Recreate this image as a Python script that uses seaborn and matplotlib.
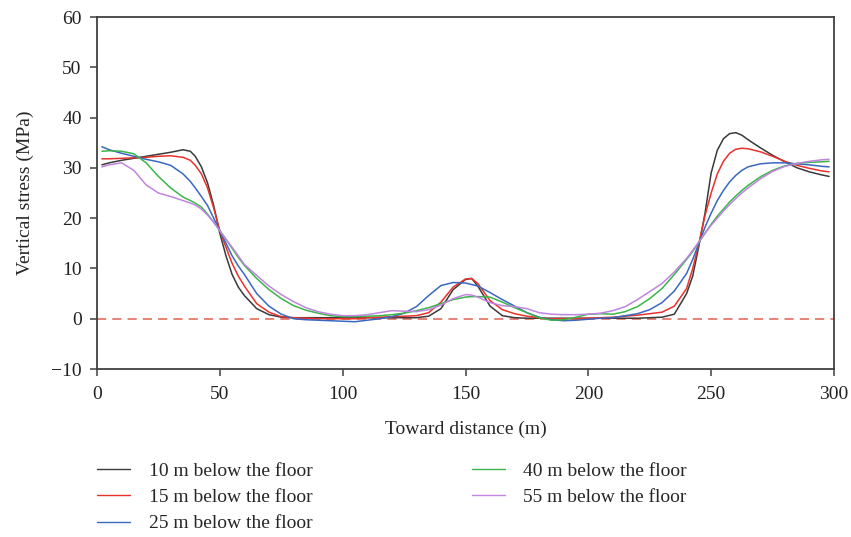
import numpy as np
import pandas as pd
import matplotlib
matplotlib.use("Agg")
import matplotlib.pyplot as plt
import seaborn as sns

# === DATA ===
distance = [2, 5, 10, 15, 20, 25, 30, 35, 38, 40,
            42.5, 45, 47.5, 50, 52.5, 55, 57.5, 60, 65, 70,
            75, 80, 85, 90, 95, 100, 105, 110, 115, 120,
            125, 130, 135, 140, 145, 150, 152.5, 155, 160, 165,
            170, 175, 180, 185, 190, 195, 200, 205, 210, 215,
            220, 225, 230, 235, 240, 242.5, 245, 247.5, 250, 252.5,
            255, 257.5, 260, 262.5, 265, 270, 275, 280, 285, 290,
            295, 298]

stress_10m = [30.6, 31.0, 31.5, 31.9, 32.3, 32.7, 33.1, 33.6, 33.3, 32.3,
              30.2, 27.0, 22.5, 17.0, 12.5, 8.8, 6.3, 4.6, 2.0, 0.8,
              0.3, 0.2, 0.2, 0.2, 0.2, 0.2, 0.2, 0.2, 0.2, 0.2,
              0.2, 0.2, 0.5, 2.0, 5.8, 7.8, 8.0, 6.5, 2.5, 0.6,
              0.2, 0.1, 0.1, 0.1, 0.1, 0.1, 0.1, 0.1, 0.1, 0.1,
              0.1, 0.2, 0.3, 0.9, 5.0, 8.5, 14.5, 21.0, 29.0, 33.5,
              35.8, 36.8, 37.0, 36.5, 35.6, 34.0, 32.5, 31.2, 30.0, 29.2,
              28.6, 28.3]

stress_15m = [31.8, 31.8, 31.9, 32.0, 32.1, 32.3, 32.4, 32.1, 31.5, 30.5,
              28.8, 26.0, 22.0, 17.5, 14.2, 11.0, 8.5, 6.5, 3.0, 1.3,
              0.4, 0.2, 0.1, 0.0, 0.0, 0.0, 0.0, 0.2, 0.3, 0.4,
              0.5, 0.6, 1.2, 3.3, 6.3, 7.9, 8.0, 7.0, 3.6, 1.8,
              1.0, 0.5, 0.2, 0.0, 0.0, 0.0, 0.1, 0.2, 0.3, 0.5,
              0.7, 1.0, 1.3, 2.5, 6.0, 10.0, 15.0, 20.5, 25.0, 28.8,
              31.3, 32.9, 33.7, 33.9, 33.8, 33.2, 32.3, 31.3, 30.5, 29.9,
              29.4, 29.2]

stress_25m = [34.2, 33.6, 32.9, 32.3, 31.7, 31.2, 30.5, 28.8, 27.3, 26.0,
              24.3, 22.5, 20.0, 17.5, 15.0, 12.5, 10.5, 8.8, 5.0, 2.5,
              0.9, 0.0, -0.2, -0.3, -0.4, -0.5, -0.6, -0.3, 0.0, 0.4,
              1.1, 2.4, 4.6, 6.6, 7.2, 7.1, 6.8, 6.5, 5.2, 3.8,
              2.5, 1.2, 0.3, -0.2, -0.4, -0.3, -0.1, 0.1, 0.2, 0.6,
              1.0, 1.8, 3.2, 5.5, 9.0, 11.8, 15.0, 18.2, 21.0, 23.5,
              25.5, 27.2, 28.5, 29.5, 30.2, 30.8, 31.0, 31.0, 30.8, 30.6,
              30.3, 30.2]

stress_40m = [33.3, 33.4, 33.3, 32.8, 31.0, 28.3, 26.0, 24.2, 23.5, 23.0,
              22.2, 20.8, 19.2, 17.5, 15.8, 14.0, 12.2, 10.6, 8.0, 5.8,
              4.0, 2.6, 1.7, 1.1, 0.6, 0.4, 0.4, 0.5, 0.6, 0.8,
              1.1, 1.6, 2.2, 3.0, 3.8, 4.3, 4.4, 4.4, 4.3, 3.3,
              2.2, 1.2, 0.2, -0.3, -0.2, 0.3, 0.9, 1.0, 0.9, 1.4,
              2.4, 4.0, 6.0, 8.8, 11.8, 13.4, 15.2, 17.0, 18.8, 20.4,
              21.8, 23.2, 24.4, 25.5, 26.5, 28.2, 29.5, 30.4, 30.9, 31.1,
              31.2, 31.3]

stress_55m = [30.2, 30.6, 31.0, 29.5, 26.6, 25.0, 24.3, 23.5, 23.0, 22.6,
              21.8, 20.6, 19.2, 17.5, 15.8, 14.2, 12.5, 10.8, 8.6, 6.5,
              4.8, 3.4, 2.2, 1.4, 0.9, 0.6, 0.6, 0.8, 1.2, 1.6,
              1.5, 1.4, 1.8, 2.7, 4.0, 4.8, 4.7, 4.3, 3.2, 2.6,
              2.4, 2.0, 1.2, 0.9, 0.8, 0.8, 0.9, 1.1, 1.6, 2.4,
              3.8, 5.4, 7.0, 9.3, 12.0, 13.6, 15.3, 17.0, 18.6, 20.0,
              21.4, 22.7, 23.9, 25.0, 26.0, 27.8, 29.3, 30.3, 30.9, 31.3,
              31.6, 31.7]

labels = ["10 m below the floor", "15 m below the floor", "25 m below the floor",
          "40 m below the floor", "55 m below the floor"]
series = [stress_10m, stress_15m, stress_25m, stress_40m, stress_55m]
colors = ["#3a3a3a", "#e8322b", "#3a68c0", "#3ab54a", "#c184e0"]

x_ticks = [0, 50, 100, 150, 200, 250, 300]
y_ticks = [-10, 0, 10, 20, 30, 40, 50, 60]

# long format table for seaborn
df = pd.concat(
    [pd.DataFrame({"distance": distance, "stress": s, "depth": lab})
     for s, lab in zip(series, labels)],
    ignore_index=True,
)

# === STYLE ===
sns.set_style("ticks")
plt.rcParams["font.family"] = ["Liberation Serif", "DejaVu Serif"]
plt.rcParams["axes.edgecolor"] = "#404040"
plt.rcParams["xtick.color"] = "#404040"
plt.rcParams["ytick.color"] = "#404040"
plt.rcParams["xtick.labelcolor"] = "#222222"
plt.rcParams["ytick.labelcolor"] = "#222222"

fig = plt.figure(figsize=(8.51, 5.37), dpi=100)
ax = fig.add_axes([97 / 851, 1 - 369 / 537, (834 - 97) / 851, (369 - 17) / 537])

sns.lineplot(
    data=df, x="distance", y="stress",
    hue="depth", hue_order=labels,
    palette=dict(zip(labels, colors)),
    linewidth=1.1, ax=ax, legend=False,
)

# zero reference line
ax.axhline(0, color="#e06050", linestyle=(0, (6, 4)), linewidth=1.1, zorder=0)

ax.set_xlim(0, 300)
ax.set_ylim(-10, 60)
ax.set_xticks(x_ticks)
ax.set_yticks(y_ticks)
ax.tick_params(direction="out", length=5, width=1.1, labelsize=14)
ax.tick_params(axis="x", pad=7)
ax.tick_params(axis="y", pad=6)
for sp in ax.spines.values():
    sp.set_linewidth(1.3)
    sp.set_visible(True)

ax.set_xlabel("Toward distance (m)", fontsize=14, labelpad=13)
ax.set_ylabel("Vertical stress (MPa)", fontsize=14, labelpad=12)

handles = [plt.Line2D([], [], color=c, linewidth=1.0) for c in colors]
fig.legend(
    handles, labels,
    loc="upper left", bbox_to_anchor=(97 / 851, 1 - 462 / 537),
    ncol=2, frameon=False, fontsize=14,
    borderpad=0, borderaxespad=0, handlelength=1.7, handletextpad=0.95,
    labelspacing=0.45, columnspacing=8.2,
)

fig.savefig("out.png", dpi=100)
plt.close(fig)
